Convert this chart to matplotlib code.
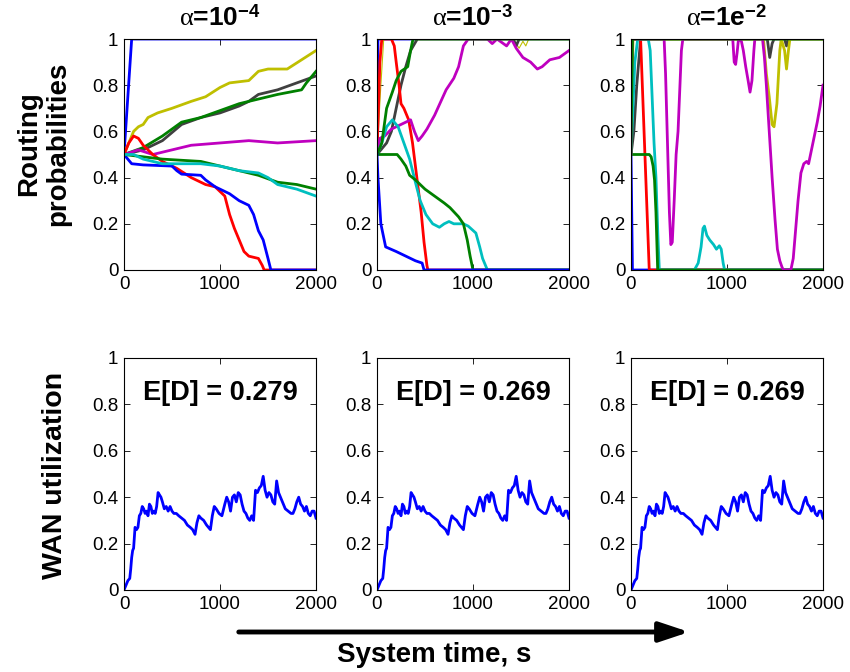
import numpy as np
import matplotlib
matplotlib.use("Agg")
import matplotlib.pyplot as plt
from matplotlib.patches import FancyArrowPatch

plt.rcParams['font.family'] = ['Liberation Sans', 'DejaVu Sans']
plt.rcParams['mathtext.fontset'] = 'custom'
plt.rcParams['mathtext.rm'] = 'Liberation Serif'
plt.rcParams['mathtext.it'] = 'Liberation Serif'
plt.rcParams['mathtext.bf'] = 'Liberation Sans:bold'

# MATLAB-style line colours
C_B = (0, 0, 1)
C_G = (0, 0.5, 0)
C_R = (1, 0, 0)
C_C = (0, 0.75, 0.75)
C_M = (0.75, 0, 0.75)
C_Y = (0.75, 0.75, 0)
C_K = (0.25, 0.25, 0.25)

titles = [r'$\alpha$=10$^{\mathbf{-4}}$', r'$\alpha$=10$^{\mathbf{-3}}$', r'$\alpha$=1e$^{\mathbf{-2}}$']
delays = ['E[D] = 0.279', 'E[D] = 0.269', 'E[D] = 0.269']

# ---- routing probabilities, alpha = 1e-4 : (time, prob) ----
a4_blue_up = [(0, .5), (80, 1), (2000, 1)]
a4_yellow = [(0, .5), (50, .55), (100, .6), (150, .62), (200, .63), (250, .66), (350, .68),
             (500, .70), (700, .73), (850, .75), (1000, .79), (1100, .81), (1300, .82),
             (1400, .86), (1500, .87), (1700, .87), (1850, .91), (2000, .95)]
a4_gray = [(0, .5), (200, .52), (400, .56), (600, .63), (800, .66), (1000, .68), (1200, .71),
           (1300, .73), (1400, .76), (1600, .78), (1800, .81), (2000, .84)]
a4_green_up = [(0, .5), (200, .53), (400, .58), (600, .64), (800, .66), (1000, .69), (1200, .72),
               (1400, .74), (1600, .76), (1850, .78), (1900, .81), (2000, .86)]
a4_magenta = [(0, .5), (150, .52), (300, .50), (500, .52), (700, .54), (1000, .55), (1300, .56),
              (1600, .55), (2000, .56)]
a4_red = [(0, .5), (50, .55), (100, .58), (150, .57), (200, .54), (300, .50), (400, .47),
          (550, .44), (700, .40), (850, .37), (950, .36), (1050, .32), (1100, .24), (1150, .18),
          (1200, .13), (1250, .08), (1300, .06), (1400, .05), (1440, .02), (1460, 0), (2000, 0)]
a4_blue_dn = [(0, .5), (80, .46), (200, .455), (500, .45), (550, .43), (600, .415), (800, .41),
              (850, .39), (950, .36), (1100, .33), (1200, .30), (1300, .28), (1350, .24),
              (1400, .17), (1450, .13), (1500, .05), (1530, 0), (2000, 0)]
a4_green_dn = [(0, .5), (200, .49), (400, .48), (600, .475), (800, .47), (1000, .45), (1200, .43),
               (1400, .41), (1600, .38), (1800, .37), (2000, .35)]
a4_cyan = [(0, .5), (100, .50), (200, .48), (400, .46), (600, .46), (800, .46), (1000, .45),
           (1200, .43), (1400, .42), (1500, .40), (1600, .37), (1800, .35), (2000, .32)]

# ---- alpha = 1e-3 ----
a3_blue_up = [(0, .5), (10, 1), (380, 1)]
a3_yellow = [(0, .5), (40, .8), (70, 1), (1400, 1), (1450, .98), (1480, .96), (1520, .99),
             (1550, .97), (1580, 1), (2000, 1)]
a3_gray = [(0, .5), (100, .55), (150, .6), (200, .7), (250, .8), (300, .88), (350, .95),
           (420, 1), (1420, 1), (1450, .97), (1480, 1), (2000, 1)]
a3_red = [(0, .5), (30, .9), (50, 1), (150, 1), (180, .97), (200, .9), (230, .8), (250, .72),
          (280, .70), (330, .65), (370, .55), (400, .45), (430, .35), (460, .25), (490, .12),
          (520, .02), (530, 0), (2000, 0)]
a3_magenta = [(0, .5), (30, .57), (80, .58), (150, .61), (250, .63), (350, .65), (390, .60),
              (430, .56), (470, .58), (520, .61), (600, .67), (720, .78), (800, .83), (850, .88),
              (900, .97), (950, 1), (1150, 1), (1200, .98), (1250, 1), (1350, .97), (1400, 1),
              (1450, .96), (1520, .92), (1600, .90), (1670, .87), (1720, .88), (1800, .91),
              (1900, .92), (2000, .95)]
a3_cyan = [(0, .5), (50, .55), (100, .62), (160, .65), (220, .62), (280, .55), (340, .48),
           (400, .38), (450, .30), (510, .24), (580, .20), (650, .185), (700, .20), (750, .21),
           (800, .20), (900, .20), (950, .19), (1030, .16), (1070, .10), (1100, .05),
           (1150, 0), (2000, 0)]
a3_green_dn = [(0, .5), (210, .5), (250, .48), (300, .45), (340, .41), (400, .39), (500, .35),
               (600, .32), (700, .29), (760, .27), (850, .23), (900, .20), (940, .13),
               (970, .06), (1000, 0), (2000, 0)]
a3_green_up = [(0, .5), (50, .55), (100, .70), (160, .77), (200, .82), (250, .86), (320, .88),
               (350, .95), (375, 1), (2000, 1)]
a3_blue_dn = [(0, .5), (10, .4), (40, .2), (90, .1), (200, .08), (300, .06), (400, .04),
              (470, .03), (490, 0), (2000, 0)]

# ---- alpha = 1e-2 ----
a2_blue = [(0, .5), (15, 0), (2000, 0)]
a2_gray = [(0, .5), (30, .6), (60, .8), (80, .9), (100, 1), (1420, 1), (1445, .92),
           (1470, .98), (1490, 1), (1600, 1), (1620, .97), (1640, 1), (2000, 1)]
a2_yellow = [(0, .5), (20, 1), (1380, 1), (1410, .85), (1440, .75), (1470, .63), (1490, .62),
             (1520, .72), (1550, .95), (1565, 1), (1600, .95), (1620, .87), (1640, .95),
             (1655, 1), (2000, 1)]
a2_red = [(0, .5), (10, 1), (100, 1), (190, 0), (2000, 0)]
a2_cyan = [(0, .5), (40, .9), (70, 1), (180, 1), (200, .95), (220, .75), (240, .55), (260, .40),
           (280, .15), (295, 0), (660, 0), (700, .03), (730, .10), (750, .18), (765, .19),
           (790, .15), (820, .13), (860, .11), (890, .09), (920, .105), (940, .09), (960, .03),
           (975, 0), (2000, 0)]
a2_green_dn = [(0, .5), (190, .5), (210, .49), (230, .45), (245, .39), (260, .25), (278, 0),
               (2000, 0)]
a2_magenta = [(0, .5), (10, 1), (345, 1), (360, .85), (380, .55), (400, .25), (415, .11),
              (430, .12), (450, .30), (470, .50), (490, .60), (510, .80), (525, .95), (540, 1),
              (1060, 1), (1075, .90), (1090, .89), (1105, .94), (1120, 1), (1150, .99),
              (1170, .95), (1195, .88), (1220, .82), (1240, .77), (1260, .82), (1280, .95),
              (1290, 1), (1370, 1), (1390, .92), (1410, .80), (1440, .60), (1470, .40),
              (1500, .22), (1525, .09), (1550, .04), (1575, .01), (1590, 0), (1665, 0),
              (1690, .05), (1710, .15), (1740, .30), (1770, .42), (1800, .46), (1830, .47),
              (1850, .46), (1880, .52), (1910, .58), (1940, .64), (1970, .71), (2000, .80)]
a2_green_up = [(0, .5), (15, 1), (2000, 1)]

panel_lines = [
    [(a4_blue_up, C_B, 2), (a4_yellow, C_Y, 2), (a4_gray, C_K, 2), (a4_green_up, C_G, 2),
     (a4_magenta, C_M, 2), (a4_red, C_R, 2), (a4_blue_dn, C_B, 2), (a4_green_dn, C_G, 2),
     (a4_cyan, C_C, 2)],
    [(a3_blue_up, C_B, 2), (a3_yellow, C_Y, 0.8), (a3_gray, C_K, 2), (a3_red, C_R, 2),
     (a3_magenta, C_M, 2), (a3_cyan, C_C, 2), (a3_green_dn, C_G, 2), (a3_green_up, C_G, 2),
     (a3_blue_dn, C_B, 2)],
    [(a2_blue, C_B, 2), (a2_gray, C_K, 2), (a2_yellow, C_Y, 2), (a2_red, C_R, 2),
     (a2_cyan, C_C, 2), (a2_green_dn, C_G, 2), (a2_magenta, C_M, 2), (a2_green_up, C_G, 2)],
]

# ---- WAN utilization (same run shown in every column) ----
wan_t = [0, 20, 40, 60, 70, 80, 90, 100, 115, 130, 145, 160, 175, 190, 205, 220, 235, 250, 265,
         280, 295, 310, 325, 340, 355, 370, 385, 400, 420, 440, 460, 480, 500, 520, 545, 570,
         600, 630, 660, 690, 715, 740, 760, 780, 800, 830, 860, 880, 900, 920, 940, 960, 990,
         1020, 1050, 1070, 1090, 1110, 1130, 1150, 1170, 1190, 1210, 1230, 1250, 1270, 1290,
         1310, 1330, 1350, 1370, 1390, 1410, 1430, 1450, 1470, 1490, 1510, 1530, 1550, 1570,
         1590, 1610, 1630, 1650, 1680, 1710, 1740, 1760, 1780, 1800, 1820, 1840, 1860, 1880,
         1900, 1920, 1940, 1960, 1980, 2000]
wan_u = [0.0, 0.02, 0.04, 0.05, 0.09, 0.14, 0.17, 0.18, 0.27, 0.26, 0.27, 0.32, 0.33, 0.36,
         0.35, 0.33, 0.34, 0.32, 0.37, 0.36, 0.33, 0.34, 0.33, 0.36, 0.42, 0.41, 0.40, 0.38,
         0.35, 0.36, 0.34, 0.36, 0.34, 0.33, 0.33, 0.32, 0.31, 0.30, 0.28, 0.27, 0.26, 0.24,
         0.29, 0.32, 0.31, 0.30, 0.28, 0.27, 0.26, 0.32, 0.36, 0.35, 0.33, 0.32, 0.37, 0.40,
         0.38, 0.34, 0.40, 0.41, 0.38, 0.42, 0.41, 0.37, 0.34, 0.33, 0.31, 0.30, 0.32, 0.30,
         0.43, 0.42, 0.44, 0.45, 0.49, 0.43, 0.40, 0.42, 0.41, 0.38, 0.37, 0.47, 0.42, 0.40,
         0.38, 0.35, 0.34, 0.33, 0.33, 0.35, 0.38, 0.40, 0.37, 0.36, 0.34, 0.36, 0.33, 0.32,
         0.34, 0.34, 0.31]

W, H = 850, 672
fig = plt.figure(figsize=(W / 100, H / 100), dpi=100)

lefts = [124, 377, 631]
aw = 192
top_row = (39, 270)
bot_row = (358, 590)


def make_axes(x0, rows):
    y0, y1 = rows
    ax = fig.add_axes([x0 / W, 1 - y1 / H, aw / W, (y1 - y0) / H])
    ax.set_xlim(0, 2000)
    ax.set_ylim(0, 1)
    ax.set_xticks([0, 1000, 2000])
    ax.set_yticks([0, 0.2, 0.4, 0.6, 0.8, 1])
    ax.set_yticklabels(['0', '0.2', '0.4', '0.6', '0.8', '1'])
    ax.tick_params(direction='in', top=True, right=True, length=4, width=0.6,
                   labelsize=13.5, pad=4)
    for s in ax.spines.values():
        s.set_linewidth(0.8)
    return ax


for i, x0 in enumerate(lefts):
    ax = make_axes(x0, top_row)
    for pts, col, lw in panel_lines[i]:
        t, p = zip(*pts)
        ax.plot(t, p, color=col, lw=lw)
    ax.set_title(titles[i], fontsize=19, fontweight='bold', pad=10)

    ax2 = make_axes(x0, bot_row)
    ax2.plot(wan_t, wan_u, color=C_B, lw=2)
    ax2.text(1000, 0.85, delays[i], ha='center', va='center', fontsize=19.5, fontweight='bold')

fig.text(44 / W, 1 - 144 / H, 'Routing\nprobabilities', rotation=90, ha='center', va='center',
         fontsize=20, fontweight='bold', linespacing=1.15)
fig.text(55 / W, 1 - 475 / H, 'WAN utilization', rotation=90, ha='center', va='center',
         fontsize=20.5, fontweight='bold')

arrow = FancyArrowPatch((236 / W, 1 - 632 / H), (692 / W, 1 - 632 / H),
                        transform=fig.transFigure, arrowstyle='-|>,head_length=0.9,head_width=0.3',
                        mutation_scale=20, lw=3.5, color='black')
fig.add_artist(arrow)
fig.text(434 / W, 1 - 662 / H, 'System time, s', ha='center', va='baseline',
         fontsize=20, fontweight='bold')

fig.savefig('out.png', dpi=100)
